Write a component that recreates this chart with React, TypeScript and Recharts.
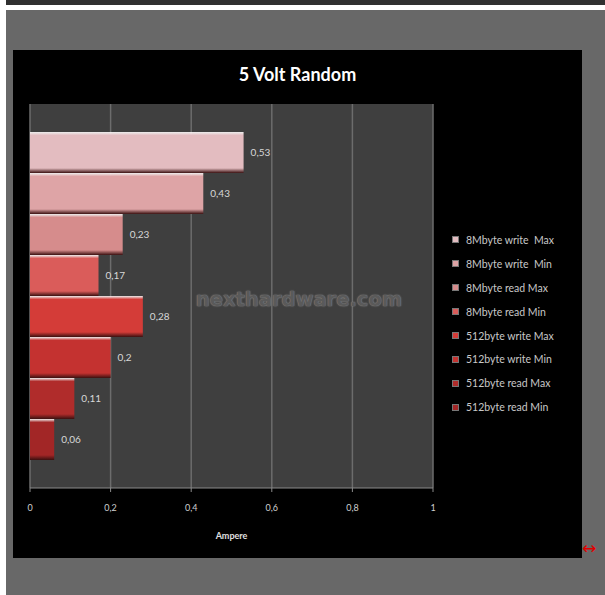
import { BarChart, Bar, XAxis, YAxis, CartesianGrid, LabelList } from "recharts";

const categories = ["5 Volt Random"];
const seriesNames = [
  "8Mbyte write  Max",
  "8Mbyte write  Min",
  "8Mbyte read Max",
  "8Mbyte read Min",
  "512byte write Max",
  "512byte write Min",
  "512byte read Max",
  "512byte read Min",
];
const seriesValues = [0.53, 0.43, 0.23, 0.17, 0.28, 0.2, 0.11, 0.06];
const seriesColors = ["#e3bcc0", "#dea4a6", "#d68c8c", "#da5c5a", "#d43c38", "#c43230", "#b02c2b", "#a22626"];
const xTicks = [0, 0.2, 0.4, 0.6, 0.8, 1];

const FONT = "Lato, 'Open Sans', sans-serif";
const comma = (v: any) => String(v).replace(".", ",");

const data = categories.map((name) => {
  const row: Record<string, any> = { name };
  seriesValues.forEach((v, i) => {
    row["s" + i] = v;
  });
  return row;
});

function LegendBox() {
  return (
    <div style={{ position: "absolute", left: 439, top: 178, width: 130, fontFamily: FONT }}>
      {seriesNames.map((n, i) => (
        <div key={n} style={{ height: 23.9, display: "flex", alignItems: "center" }}>
          <span
            style={{
              width: 7,
              height: 7,
              background: seriesColors[i],
              border: "1px solid #777",
              boxSizing: "border-box",
              marginRight: 7,
            }}
          />
          <span style={{ color: "#c8c8c8", fontSize: 10.5, whiteSpace: "pre" }}>{n}</span>
        </div>
      ))}
    </div>
  );
}

export default function App() {
  return (
    <div style={{ position: "absolute", left: 0, top: 0, width: 605, height: 595, background: "#fff", overflow: "hidden" }}>
      <div style={{ position: "absolute", left: 6, top: 0, width: 599, height: 5, background: "#303030" }} />
      <div style={{ position: "absolute", left: 6, top: 10, width: 599, height: 585, background: "#686868" }} />
      <div style={{ position: "absolute", left: 13, top: 50, width: 569, height: 508, background: "#000" }}>
        <div
          style={{
            position: "absolute",
            left: 0,
            top: 13,
            width: 569,
            textAlign: "center",
            color: "#fff",
            fontFamily: FONT,
            fontWeight: 700,
            fontSize: 18,
          }}
        >
          5 Volt Random
        </div>
        <BarChart
          width={569}
          height={508}
          data={data}
          layout="vertical"
          barCategoryGap={28}
          barGap={0}
          margin={{ top: 54, right: 149, left: 17, bottom: 10 }}
        >
          <defs>
            {seriesColors.map((c, i) => (
              <linearGradient key={c} id={"g" + i} x1="0" y1="0" x2="0" y2="1">
                <stop offset="0%" stopColor="#ffffff" stopOpacity={0.9} />
                <stop offset="8%" stopColor={c} />
                <stop offset="88%" stopColor={c} />
                <stop offset="100%" stopColor="#3a1010" />
              </linearGradient>
            ))}
          </defs>
          <CartesianGrid horizontal={false} vertical fill="#3f3f3f" stroke="#6c6c6c" strokeWidth={1.5} />
          <XAxis
            type="number"
            domain={[0, 1]}
            ticks={xTicks}
            height={60}
            tickFormatter={comma}
            tick={{ fill: "#cfcfcf", fontSize: 9, fontFamily: FONT }}
            tickSize={4}
            tickMargin={13}
            axisLine={{ stroke: "#8a8a8a" }}
            tickLine={{ stroke: "#8a8a8a" }}
            label={{
              value: "Ampere",
              position: "insideBottom",
              offset: 9,
              fill: "#e0e0e0",
              fontSize: 9,
              fontWeight: 700,
              fontFamily: FONT,
            }}
          />
          <YAxis type="category" dataKey="name" hide />
          {seriesNames.map((n, i) => (
            <Bar key={n} dataKey={"s" + i} name={n} fill={`url(#g${i})`} isAnimationActive={false}>
              <LabelList
                dataKey={"s" + i}
                position="right"
                offset={7}
                formatter={comma}
                fill="#d8d8d8"
                fontSize={10}
                fontFamily={FONT}
              />
            </Bar>
          ))}
        </BarChart>
        <LegendBox />
        <div
          style={{
            position: "absolute",
            left: 168,
            top: 238,
            width: 236,
            textAlign: "center",
            color: "#5a5a5a",
            fontFamily: "'DejaVu Sans', sans-serif",
            fontWeight: 700,
            fontSize: 19.5,
            textShadow: "0 0 1px #8a8a8a, 0 0 2px #7a7a7a",
            pointerEvents: "none",
          }}
        >
          nexthardware.com
        </div>
      </div>
      <div style={{ position: "absolute", left: 582, top: 538, color: "#e00000", fontSize: 17, fontFamily: "'DejaVu Sans', sans-serif" }}>
        ↔
      </div>
    </div>
  );
}
